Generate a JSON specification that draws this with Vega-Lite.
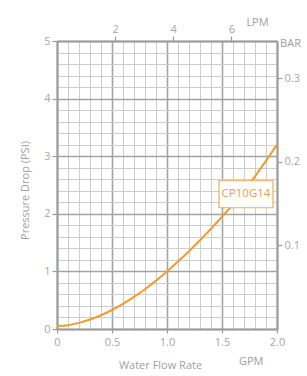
{
  "$schema": "https://vega.github.io/schema/vega-lite/v6.json",
  "width": 220,
  "height": 288,
  "autosize": {"type": "none"},
  "padding": {"left": 57, "top": 41, "right": 30, "bottom": 47},
  "background": "white",
  "config": {
    "font": "Open Sans",
    "view": {"stroke": null},
    "axis": {"labelFont": "Open Sans", "titleFont": "Open Sans", "titleFontWeight": "normal", "labelColor": "#a6a6a6", "titleColor": "#a0a0a0", "labelFontSize": 11, "titleFontSize": 11, "labelFlush": false, "labelOverlap": false, "domainColor": "#9c9c9c", "domainWidth": 2, "tickColor": "#9c9c9c", "tickWidth": 1.2}
  },
  "title": {"text": "GPM", "orient": "bottom", "anchor": "end", "offset": -14, "dx": -37, "fontSize": 11, "font": "Open Sans", "fontWeight": "normal", "color": "#a0a0a0"},
  "data": {
    "values": [
      {"gpm": 0.0, "psi": 0.05, "lpm": 0.0, "bar": 0.00345, "series": "CP10G14"},
      {"gpm": 0.1, "psi": 0.067, "lpm": 0.379, "bar": 0.00462, "series": "CP10G14"},
      {"gpm": 0.2, "psi": 0.106, "lpm": 0.757, "bar": 0.00731, "series": "CP10G14"},
      {"gpm": 0.3, "psi": 0.164, "lpm": 1.136, "bar": 0.01131, "series": "CP10G14"},
      {"gpm": 0.4, "psi": 0.239, "lpm": 1.514, "bar": 0.01648, "series": "CP10G14"},
      {"gpm": 0.5, "psi": 0.33, "lpm": 1.893, "bar": 0.02275, "series": "CP10G14"},
      {"gpm": 0.6, "psi": 0.437, "lpm": 2.271, "bar": 0.03013, "series": "CP10G14"},
      {"gpm": 0.7, "psi": 0.557, "lpm": 2.65, "bar": 0.0384, "series": "CP10G14"},
      {"gpm": 0.8, "psi": 0.691, "lpm": 3.028, "bar": 0.04764, "series": "CP10G14"},
      {"gpm": 0.9, "psi": 0.84, "lpm": 3.407, "bar": 0.05792, "series": "CP10G14"},
      {"gpm": 1.0, "psi": 1.0, "lpm": 3.785, "bar": 0.06895, "series": "CP10G14"},
      {"gpm": 1.1, "psi": 1.17, "lpm": 4.164, "bar": 0.08067, "series": "CP10G14"},
      {"gpm": 1.2, "psi": 1.35, "lpm": 4.542, "bar": 0.09308, "series": "CP10G14"},
      {"gpm": 1.3, "psi": 1.54, "lpm": 4.921, "bar": 0.10618, "series": "CP10G14"},
      {"gpm": 1.4, "psi": 1.74, "lpm": 5.3, "bar": 0.11997, "series": "CP10G14"},
      {"gpm": 1.5, "psi": 1.95, "lpm": 5.678, "bar": 0.13445, "series": "CP10G14"},
      {"gpm": 1.6, "psi": 2.16, "lpm": 6.057, "bar": 0.14893, "series": "CP10G14"},
      {"gpm": 1.7, "psi": 2.4, "lpm": 6.435, "bar": 0.16547, "series": "CP10G14"},
      {"gpm": 1.8, "psi": 2.65, "lpm": 6.814, "bar": 0.18271, "series": "CP10G14"},
      {"gpm": 1.9, "psi": 2.92, "lpm": 7.192, "bar": 0.20133, "series": "CP10G14"},
      {"gpm": 2.0, "psi": 3.2, "lpm": 7.571, "bar": 0.22063, "series": "CP10G14"}
    ]
  },
  "layer": [
    {
      "encoding": {
        "x": {
          "field": "gpm", "type": "quantitative",
          "scale": {"domain": [0, 2], "nice": false},
          "axis": {
            "orient": "bottom",
            "values": [0, 0.1, 0.2, 0.3, 0.4, 0.5, 0.6, 0.7, 0.8, 0.9, 1.0, 1.1, 1.2, 1.3, 1.4, 1.5, 1.6, 1.7, 1.8, 1.9, 2.0],
            "labelExpr": "abs(datum.value*2-round(datum.value*2))<0.001 ? (datum.value==0 ? '0' : format(datum.value,'.1f')) : ''",
            "grid": true,
            "gridColor": {"condition": {"test": "abs(datum.value*2-round(datum.value*2))<0.001", "value": "#a3a3a3"}, "value": "#cdcdcd"},
            "gridWidth": {"condition": {"test": "abs(datum.value*2-round(datum.value*2))<0.001", "value": 1.6}, "value": 1},
            "tickOpacity": {"condition": {"test": "abs(datum.value*2-round(datum.value*2))<0.001", "value": 1}, "value": 0},
            "tickSize": 4,
            "labelPadding": 3,
            "title": "Water Flow Rate",
            "titleX": 103, "titleY": 36, "titleAlign": "center", "titleBaseline": "middle", "titleAngle": 0
          }
        },
        "y": {
          "field": "psi", "type": "quantitative",
          "scale": {"domain": [0, 5], "nice": false},
          "axis": {
            "orient": "left",
            "values": [0, 0.2, 0.4, 0.6, 0.8, 1, 1.2, 1.4, 1.6, 1.8, 2, 2.2, 2.4, 2.6, 2.8, 3, 3.2, 3.4, 3.6, 3.8, 4, 4.2, 4.4, 4.6, 4.8, 5],
            "labelExpr": "abs(datum.value-round(datum.value))<0.001 ? format(datum.value,'d') : ''",
            "grid": true,
            "gridColor": {"condition": {"test": "abs(datum.value-round(datum.value))<0.001", "value": "#a3a3a3"}, "value": "#cdcdcd"},
            "gridWidth": {"condition": {"test": "abs(datum.value-round(datum.value))<0.001", "value": 1.6}, "value": 1},
            "tickOpacity": {"condition": {"test": "abs(datum.value-round(datum.value))<0.001", "value": 1}, "value": 0},
            "tickSize": 5,
            "labelPadding": 2,
            "title": "Pressure Drop (PSI)",
            "titleX": -32, "titleY": 149, "titleAlign": "center", "titleBaseline": "middle", "titleAngle": -90
          }
        }
      },
      "layer": [
        {"mark": {"type": "line", "color": "#f29b30", "strokeWidth": 2, "interpolate": "monotone"}},
        {
          "transform": [{"filter": "datum.gpm == 1.7"}],
          "mark": {"type": "point", "shape": "M-1,-0.5L1,-0.5L1,0.5L-1,0.5Z", "size": 2916, "filled": true, "fill": "white", "stroke": "#eeae50", "strokeWidth": 1.2, "opacity": 1, "xOffset": 2, "yOffset": 3.5}
        },
        {
          "transform": [{"filter": "datum.gpm == 1.7"}],
          "mark": {"type": "text", "color": "#e9a040", "fontSize": 11.5, "font": "Open Sans", "align": "center", "baseline": "middle", "dx": 2, "dy": 3.5},
          "encoding": {"text": {"field": "series"}}
        }
      ]
    },
    {
      "mark": {"type": "line", "opacity": 0},
      "encoding": {
        "x": {
          "field": "lpm", "type": "quantitative",
          "scale": {"domain": [0, 7.5708], "nice": false},
          "axis": {
            "orient": "top", "values": [2, 4, 6], "grid": false, "tickSize": 5, "labelPadding": 2,
            "title": "LPM", "titleX": 200, "titleY": -19, "titleAlign": "center", "titleBaseline": "middle", "titleAngle": 0
          }
        },
        "y": {
          "field": "bar", "type": "quantitative",
          "scale": {"domain": [0, 0.344737], "nice": false},
          "axis": {
            "orient": "right", "values": [0.1, 0.2, 0.3], "format": ".1f", "grid": false, "tickSize": 5, "labelPadding": 2,
            "title": "BAR", "titleX": 13, "titleY": 2, "titleAlign": "center", "titleBaseline": "middle", "titleAngle": 0
          }
        }
      }
    }
  ],
  "resolve": {"scale": {"x": "independent", "y": "independent"}}
}
